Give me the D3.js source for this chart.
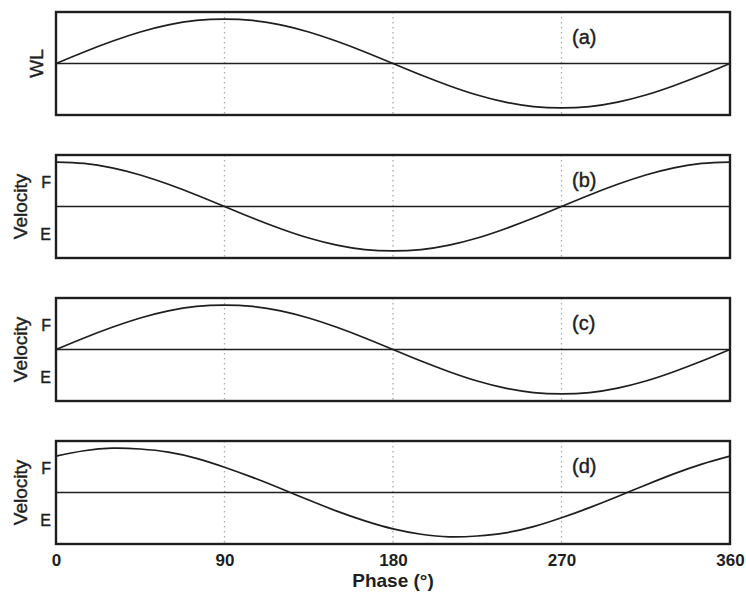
<!DOCTYPE html>
<html><head><meta charset="utf-8">
<script src="https://cdn.jsdelivr.net/npm/d3@7"></script>
<style>
html,body{margin:0;padding:0;background:#fff;}
svg{display:block;font-family:"Liberation Sans",Arial,Helvetica,sans-serif;}
</style></head>
<body><svg id="chart" width="746" height="592"></svg>
<script>
// Data (phase in degrees, normalised signal)
const phase = [0,15,30,45,60,75,90,105,120,135,150,165,180,195,210,225,240,255,270,285,300,315,330,345,360];
const wlValues = [0,0.26,0.5,0.71,0.87,0.97,1,0.97,0.87,0.71,0.5,0.26,0,-0.26,-0.5,-0.71,-0.87,-0.97,-1,-0.97,-0.87,-0.71,-0.5,-0.26,0];
const velB = [1,0.97,0.87,0.71,0.5,0.26,0,-0.26,-0.5,-0.71,-0.87,-0.97,-1,-0.97,-0.87,-0.71,-0.5,-0.26,0,0.26,0.5,0.71,0.87,0.97,1];
const velC = [0,0.26,0.5,0.71,0.87,0.97,1,0.97,0.87,0.71,0.5,0.26,0,-0.26,-0.5,-0.71,-0.87,-0.97,-1,-0.97,-0.87,-0.71,-0.5,-0.26,0];
const velD = [0.82,0.94,1.0,0.98,0.91,0.77,0.57,0.34,0.09,-0.17,-0.42,-0.64,-0.82,-0.94,-1.0,-0.98,-0.91,-0.77,-0.57,-0.34,-0.09,0.17,0.42,0.64,0.82];
const panelLabels = ["(a)","(b)","(c)","(d)"];
const yTitles = ["WL","Velocity","Velocity","Velocity"];
const xTicks = [0,90,180,270,360];
const gridTicks = [90,180,270];
const xTitle = "Phase (\u00B0)";

const series = [wlValues, velB, velC, velD];
const svg = d3.select("#chart");
const left = 56, right = 730, top0 = 12, ph = 103, step = 143;
const ink = "#1e1e1e";

const x = d3.scaleLinear().domain([0,360]).range([left,right]);

series.forEach((vals,i)=>{
  const t = top0 + i*step;
  const y = d3.scaleLinear().domain([-1.16,1.16]).range([t+ph,t]);
  const g = svg.append("g");
  // grid
  g.selectAll("line.grid").data(gridTicks).enter().append("line")
    .attr("x1",d=>x(d)).attr("x2",d=>x(d)).attr("y1",t).attr("y2",t+ph)
    .attr("stroke","#aaa").attr("stroke-width",1.3).attr("stroke-dasharray","1.5,3.5");
  // zero line
  g.append("line").attr("x1",left).attr("x2",right).attr("y1",y(0)).attr("y2",y(0))
    .attr("stroke",ink).attr("stroke-width",1.4);
  // curve
  const line = d3.line().x((d,k)=>x(phase[k])).y(d=>y(d)).curve(d3.curveNatural);
  g.append("path").datum(vals).attr("d",line).attr("fill","none")
    .attr("stroke",ink).attr("stroke-width",1.7);
  // frame
  g.append("rect").attr("x",left).attr("y",t).attr("width",right-left).attr("height",ph)
    .attr("fill","none").attr("stroke",ink).attr("stroke-width",2.4);
  // panel label
  g.append("text").attr("x",572).attr("y",t+32).attr("font-size",20).attr("fill",ink)
    .attr("stroke",ink).attr("stroke-width",0.4).text(panelLabels[i]);
  // y title
  const cy = t + ph/2;
  if(i===0){
    g.append("text").attr("transform",`translate(43,${cy}) rotate(-90)`)
      .attr("text-anchor","middle").attr("font-size",19).attr("fill",ink)
      .attr("stroke",ink).attr("stroke-width",0.4).text(yTitles[i]);
  } else {
    g.append("text").attr("transform",`translate(27,${cy}) rotate(-90)`)
      .attr("text-anchor","middle").attr("font-size",19).attr("fill",ink)
      .attr("stroke",ink).attr("stroke-width",0.4).text(yTitles[i]);
    g.append("text").attr("x",51).attr("y",cy-19).attr("text-anchor","end")
      .attr("font-size",16).attr("fill",ink).attr("stroke",ink).attr("stroke-width",0.4).text("F");
    g.append("text").attr("x",51).attr("y",cy+33).attr("text-anchor","end")
      .attr("font-size",16).attr("fill",ink).attr("stroke",ink).attr("stroke-width",0.4).text("E");
  }
});

// x axis on bottom panel
const bottom = top0 + 3*step + ph;
const ax = svg.append("g").attr("transform",`translate(0,${bottom})`)
  .call(d3.axisBottom(x).tickValues(xTicks).tickSize(0).tickPadding(10).tickFormat(d3.format("d")));
ax.select(".domain").remove();
ax.selectAll("text").attr("font-size",17).attr("font-weight","bold").attr("fill",ink)
  .attr("font-family","'Liberation Sans',Arial,sans-serif");
svg.append("text").attr("x",x(180)).attr("y",587).attr("text-anchor","middle")
  .attr("font-size",19).attr("font-weight","bold").attr("fill",ink).text(xTitle);
</script></body></html>
